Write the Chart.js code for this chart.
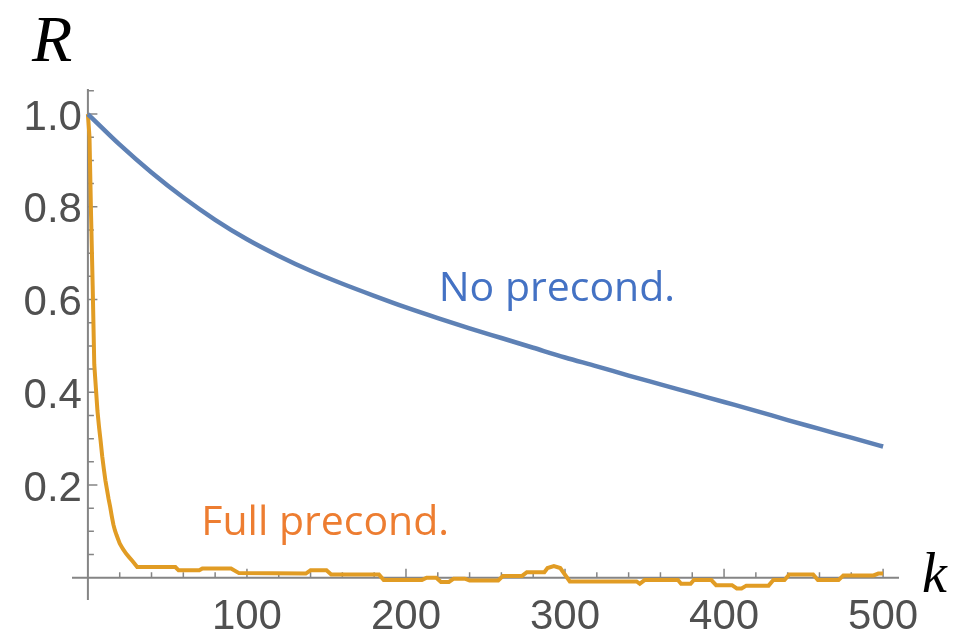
<!DOCTYPE html>
<html>
<head>
<meta charset="utf-8">
<script src="https://cdn.jsdelivr.net/npm/chart.js@4.4.1/dist/chart.umd.min.js"></script>
<style>
  html, body { margin: 0; padding: 0; background: #ffffff; }
  canvas { display: block; }
</style>
</head>
<body>
<canvas id="chart" width="959" height="633"></canvas>
<script>
// Residual R against iteration k, without and with full preconditioning.
const kNoPrecond = [0, 20, 40, 60, 80, 100, 120, 140, 160, 180, 200, 220, 240, 260, 280,
                    300, 320, 340, 360, 380, 400, 420, 440, 460, 480, 500];
const rNoPrecond = [1.000, 0.934, 0.874, 0.820, 0.772, 0.730, 0.694, 0.662, 0.634, 0.608,
                    0.583, 0.560, 0.538, 0.517, 0.496, 0.475, 0.456, 0.436, 0.417, 0.398,
                    0.379, 0.360, 0.340, 0.321, 0.302, 0.283];

const kFullPrecond = [0, 1, 2, 3, 4, 5, 6, 7, 8, 9, 10, 11, 12, 13, 14, 15, 16, 17, 18, 19, 20,
                      22, 24, 26, 28, 31, 55, 57, 70, 72, 90, 95, 137, 140, 150, 153, 183, 186,
                      210, 213, 219, 222, 227, 230, 237, 240, 258, 261, 273, 276, 287, 289, 293,
                      297, 303, 345, 347, 350, 371, 373, 379, 381, 392, 395, 405, 408, 411, 414,
                      428, 431, 438, 441, 456, 459, 472, 475, 494, 497, 500];
const rFullPrecond = [1.000, 0.950, 0.780, 0.630, 0.460, 0.410, 0.360, 0.325, 0.295, 0.262, 0.235,
                      0.210, 0.190, 0.170, 0.153, 0.133, 0.115, 0.102, 0.092, 0.083, 0.074,
                      0.062, 0.052, 0.044, 0.036, 0.023, 0.023, 0.016, 0.016, 0.020, 0.020, 0.010,
                      0.009, 0.016, 0.016, 0.007, 0.007, -0.005, -0.005, 0.000, 0.000, -0.009,
                      -0.009, -0.002, -0.002, -0.006, -0.006, 0.004, 0.004, 0.012, 0.012, 0.021,
                      0.025, 0.021, -0.008, -0.008, -0.013, -0.005, -0.005, -0.013, -0.013,
                      -0.005, -0.005, -0.016, -0.016, -0.023, -0.023, -0.017, -0.017, -0.005,
                      -0.005, 0.007, 0.007, -0.005, -0.005, 0.005, 0.005, 0.009, 0.009];

const seriesNames = ['No precond.', 'Full precond.'];
const xTickValues = [100, 200, 300, 400, 500];
const xTickLabels = ['100', '200', '300', '400', '500'];
const yTickValues = [0.2, 0.4, 0.6, 0.8, 1.0];
const yTickLabels = ['0.2', '0.4', '0.6', '0.8', '1.0'];
const axisNames = { x: 'k', y: 'R' };

// Where each series name sits, in data units (left edge, baseline).
const nameAnchors = [
  { k: 220.6, r: 0.597, color: '#4472C4' },
  { k: 71.3,  r: 0.092, color: '#ED7D31' }
];

const toPoints = (ks, rs) => ks.map((k, i) => ({ x: k, y: rs[i] }));

const AXIS_COLOR = '#858585';
const LABEL_COLOR = '#505050';

const crossAxes = {
  id: 'crossAxes',
  beforeDatasetsDraw(chart) {
    const { ctx, chartArea: a, scales: { x, y } } = chart;
    const x0 = x.getPixelForValue(0);
    const y0 = y.getPixelForValue(0);
    ctx.save();
    ctx.strokeStyle = AXIS_COLOR;
    ctx.lineWidth = 2;
    ctx.beginPath();
    ctx.moveTo(a.left, y0); ctx.lineTo(a.right, y0);
    ctx.moveTo(x0, a.top); ctx.lineTo(x0, a.bottom);
    ctx.stroke();

    ctx.lineWidth = 1.5;
    ctx.beginPath();
    for (let k = 20; k <= 500; k += 20) {
      const px = x.getPixelForValue(k);
      const len = k % 100 === 0 ? 9 : 5.5;
      ctx.moveTo(px, y0); ctx.lineTo(px, y0 - len);
    }
    for (let i = 1; i <= 21; i++) {
      const py = y.getPixelForValue(i * 0.05);
      const len = i % 4 === 0 ? 9.5 : 6;
      ctx.moveTo(x0, py); ctx.lineTo(x0 + len, py);
    }
    ctx.stroke();
    ctx.restore();
  },
  afterDatasetsDraw(chart) {
    const { ctx, chartArea: a, scales: { x, y } } = chart;
    const x0 = x.getPixelForValue(0);
    const y0 = y.getPixelForValue(0);
    ctx.save();
    ctx.fillStyle = LABEL_COLOR;
    ctx.font = '42px "Liberation Sans", Arial, sans-serif';
    ctx.textBaseline = 'alphabetic';
    ctx.textAlign = 'center';
    xTickValues.forEach((v, i) => {
      ctx.fillText(xTickLabels[i], x.getPixelForValue(v), y0 + 51);
    });
    ctx.textAlign = 'right';
    yTickValues.forEach((v, i) => {
      ctx.fillText(yTickLabels[i], x0 - 6, y.getPixelForValue(v) + 15.5);
    });

    // axis names
    ctx.fillStyle = '#000000';
    ctx.textAlign = 'left';
    ctx.font = 'italic 66px "Liberation Serif", "DejaVu Serif", serif';
    ctx.fillText(axisNames.y, x0 - 56, a.top - 28);
    ctx.font = 'italic 56px "Liberation Serif", "DejaVu Serif", serif';
    ctx.fillText(axisNames.x, a.right + 23, y0 + 14);

    // series names
    ctx.font = '41px "Open Sans", "Noto Sans", sans-serif';
    nameAnchors.forEach((n, i) => {
      ctx.fillStyle = n.color;
      ctx.fillText(seriesNames[i], x.getPixelForValue(n.k), y.getPixelForValue(n.r));
    });
    ctx.restore();
  }
};

new Chart(document.getElementById('chart'), {
  type: 'line',
  data: {
    datasets: [
      {
        label: seriesNames[0],
        data: toPoints(kNoPrecond, rNoPrecond),
        borderColor: '#5E81B5',
        borderWidth: 4.5,
        cubicInterpolationMode: 'monotone',
        pointRadius: 0,
        borderJoinStyle: 'round',
        fill: false
      },
      {
        label: seriesNames[1],
        data: toPoints(kFullPrecond, rFullPrecond),
        borderColor: '#E19C24',
        borderWidth: 4,
        tension: 0,
        pointRadius: 0,
        borderJoinStyle: 'miter',
        fill: false
      }
    ]
  },
  options: {
    responsive: false,
    animation: false,
    devicePixelRatio: 1,
    layout: { padding: { left: 72, right: 60, top: 89, bottom: 33 } },
    plugins: { legend: { display: false }, tooltip: { enabled: false } },
    scales: {
      x: { type: 'linear', min: -10, max: 510, display: false },
      y: { type: 'linear', min: -0.048, max: 1.054, display: false }
    }
  },
  plugins: [crossAxes]
});
</script>
</body>
</html>
